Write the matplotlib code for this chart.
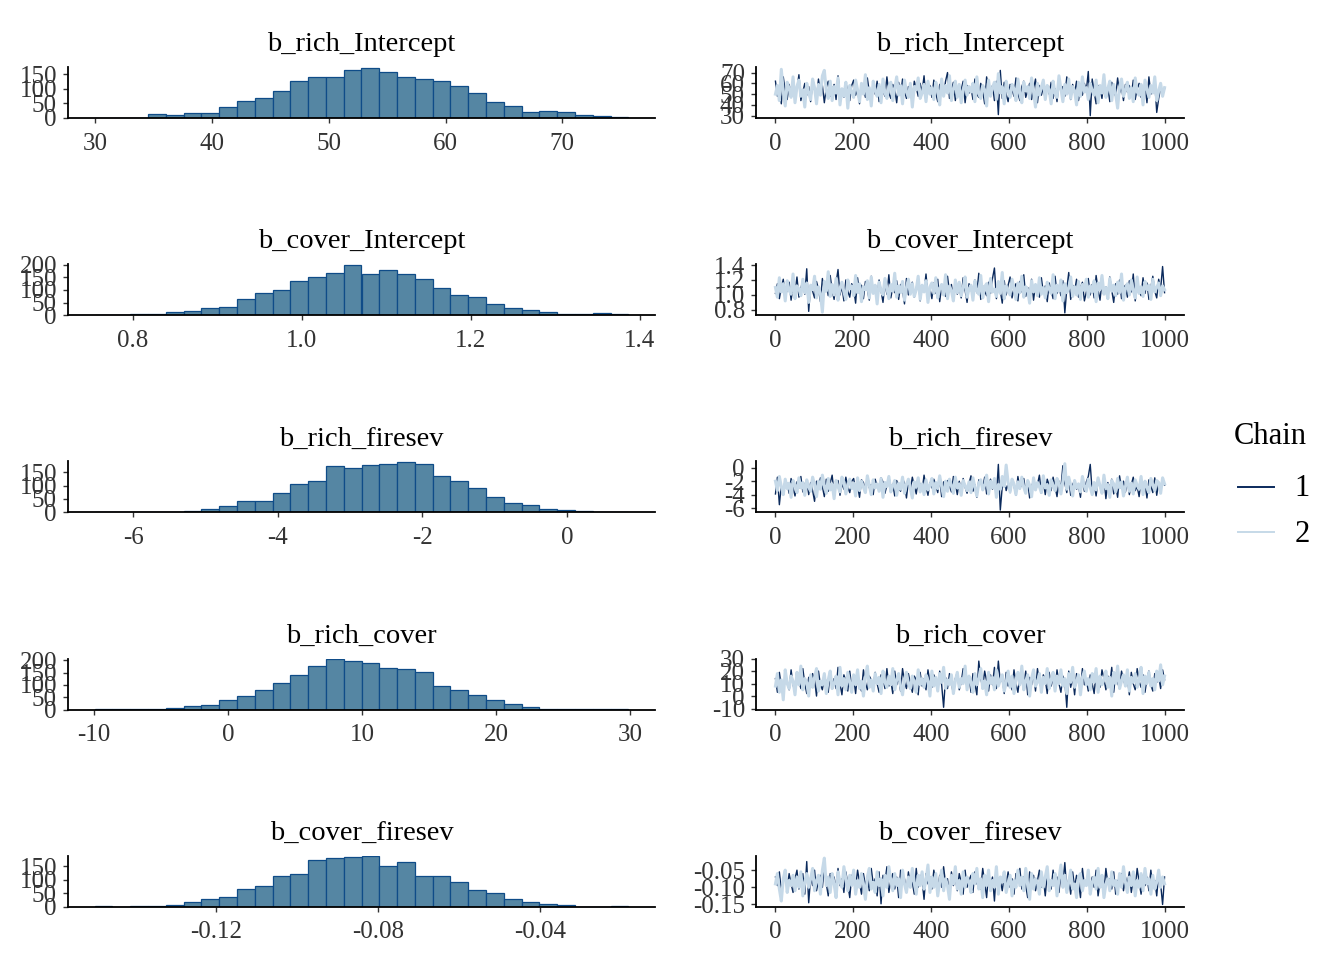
import matplotlib
matplotlib.use('Agg')
import matplotlib.pyplot as plt
from matplotlib.lines import Line2D
import numpy as np

plt.rcParams['font.family'] = ['Liberation Serif', 'DejaVu Serif']
plt.rcParams['axes.unicode_minus'] = False

# ---------------- data ----------------
params = ["b_rich_Intercept", "b_cover_Intercept", "b_rich_firesev",
          "b_rich_cover", "b_cover_firesev"]
chain_labels = ["1", "2"]

# histogram bins (left edge of first bin, bin width) and counts (2000 draws)
hist_bin_start = [29.94, 0.7547, -6.530, -9.949, -0.14995]
hist_bin_width = [1.524, 0.02105, 0.2459, 1.3275, 0.004392]

counts_rich_intercept = [1, 1, 1, 14, 11, 17, 17, 39, 59, 69, 92, 126, 140, 141, 166,
                         174, 158, 141, 135, 128, 109, 85, 55, 43, 22, 24, 20, 11, 7, 3]
counts_cover_intercept = [2, 2, 3, 5, 12, 18, 30, 34, 66, 87, 101, 134, 151, 169, 200,
                          164, 178, 165, 145, 108, 79, 71, 43, 27, 21, 13, 5, 5, 8, 4]
counts_rich_firesev = [1, 1, 1, 1, 2, 4, 13, 22, 44, 44, 71, 105, 118, 172, 166,
                       177, 179, 188, 179, 137, 116, 91, 56, 35, 27, 12, 10, 4, 3, 2]
counts_rich_cover = [3, 1, 3, 3, 6, 16, 20, 40, 56, 81, 107, 140, 177, 205, 196,
                     188, 169, 163, 151, 97, 79, 61, 37, 21, 11, 3, 4, 2, 1, 3]
counts_cover_firesev = [3, 1, 3, 3, 7, 19, 28, 37, 66, 77, 114, 119, 171, 181, 183,
                        186, 150, 164, 115, 114, 93, 62, 51, 30, 17, 12, 8, 1, 1, 3]
hist_counts = [counts_rich_intercept, counts_cover_intercept, counts_rich_firesev,
               counts_rich_cover, counts_cover_firesev]

hist_xticks = [[30, 40, 50, 60, 70], [0.8, 1.0, 1.2, 1.4], [-6, -4, -2, 0],
               [-10, 0, 10, 20, 30], [-0.12, -0.08, -0.04]]
hist_xticklabels = [["30", "40", "50", "60", "70"], ["0.8", "1.0", "1.2", "1.4"],
                    ["-6", "-4", "-2", "0"], ["-10", "0", "10", "20", "30"],
                    ["-0.12", "-0.08", "-0.04"]]
hist_yticks = [[0, 50, 100, 150], [0, 50, 100, 150, 200], [0, 50, 100, 150],
               [0, 50, 100, 150, 200], [0, 50, 100, 150]]

trace_xticks = [0, 200, 400, 600, 800, 1000]
trace_yticks = [[30, 40, 50, 60, 70], [0.8, 1.0, 1.2, 1.4], [-6, -4, -2, 0],
                [-10, 0, 10, 20, 30], [-0.15, -0.10, -0.05]]
trace_yticklabels = [["30", "40", "50", "60", "70"], ["0.8", "1.0", "1.2", "1.4"],
                     ["-6", "-4", "-2", "0"], ["-10", "0", "10", "20", "30"],
                     ["-0.15", "-0.10", "-0.05"]]

# trace values (thinned reading of each chain, every 5th iteration)
rich_intercept_c1 = [
    62, 48, 57, 41, 66, 53, 45, 59, 50, 63, 47, 55, 68, 44, 52, 60, 49, 57, 43, 61,
    54, 46, 64, 51, 58, 42, 56, 62, 48, 53, 59, 45, 67, 50, 55, 47, 61, 52, 44, 58,
    63, 49, 54, 41, 60, 56, 47, 65, 52, 45, 58, 50, 62, 43, 57, 53, 48, 66, 51, 46,
    59, 55, 42, 61, 49, 64, 53, 46, 57, 50, 44, 62, 56, 48, 60, 52, 67, 45, 54, 58,
    47, 63, 51, 43, 59, 55, 49, 62, 70, 46, 53, 61, 44, 57, 48, 54, 62, 42, 58, 51,
    56, 45, 64, 50, 47, 60, 53, 41, 66, 55, 49, 58, 44, 62, 31, 72, 46, 61, 50, 43,
    59, 54, 48, 65, 51, 44, 57, 62, 47, 53, 60, 45, 55, 64, 42, 58, 49, 56, 45, 57,
    50, 61, 46, 55, 43, 63, 52, 57, 48, 66, 54, 45, 59, 51, 62, 44, 56, 49, 60, 53,
    71, 30, 64, 52, 41, 58, 55, 46, 62, 50, 57, 43, 61, 53, 48, 65, 51, 56, 44, 59,
    52, 58, 49, 63, 45, 55, 60, 47, 52, 58, 42, 66, 50, 54, 61, 33, 46, 56, 49, 55]
rich_intercept_c2 = [
    50, 58, 44, 73, 52, 39, 61, 55, 47, 66, 42, 57, 63, 48, 54, 38, 60, 51, 45, 64,
    56, 41, 59, 49, 67, 72, 53, 46, 62, 44, 57, 51, 65, 40, 55, 48, 61, 37, 58, 52,
    47, 63, 54, 43, 60, 50, 68, 45, 56, 39, 62, 53, 48, 59, 42, 64, 51, 46, 57, 61,
    44, 55, 66, 49, 58, 41, 63, 52, 47, 60, 38, 57, 54, 65, 46, 51, 59, 43, 62, 50,
    56, 45, 61, 53, 40, 64, 48, 58, 51, 67, 44, 55, 62, 47, 59, 42, 53, 63, 49, 57,
    52, 60, 43, 66, 50, 46, 58, 54, 39, 63, 48, 56, 61, 45, 69, 51, 57, 41, 62, 53,
    47, 59, 55, 44, 64, 50, 42, 61, 53, 57, 46, 65, 52, 38, 60, 49, 56, 63, 45, 58,
    54, 41, 62, 51, 47, 67, 55, 43, 59, 50, 64, 46, 57, 53, 40, 61, 48, 66, 52, 56,
    45, 60, 53, 49, 63, 42, 58, 51, 68, 47, 55, 62, 44, 59, 50, 37, 57, 64, 48, 54,
    61, 46, 56, 43, 65, 52, 49, 59, 40, 63, 55, 47, 58, 51, 66, 44, 53, 60, 48, 56]

cover_intercept_c1 = [
    1.02, 1.15, 0.95, 1.10, 1.21, 0.98, 1.07, 1.17, 0.93, 1.12, 1.04, 1.24, 0.97, 1.09, 1.19, 1.01, 1.35, 0.78, 1.13, 1.05,
    0.96, 1.18, 1.08, 0.91, 1.22, 1.03, 1.14, 0.99, 1.26, 1.06, 0.94, 1.16, 1.34, 1.00, 1.11, 0.92, 1.20, 1.05, 0.97, 1.15,
    1.09, 0.89, 1.23, 1.02, 1.13, 0.95, 1.18, 1.07, 0.93, 1.25, 1.04, 1.12, 0.98, 1.20, 1.06, 0.90, 1.16, 1.01, 1.27, 0.96,
    1.10, 1.03, 1.19, 0.94, 1.14, 1.06, 0.88, 1.22, 1.00, 1.11, 1.17, 0.97, 1.08, 1.24, 0.92, 1.13, 1.05, 1.28, 0.99, 1.09,
    0.95, 1.16, 1.02, 1.21, 0.91, 1.12, 1.07, 0.98, 1.25, 1.04, 1.14, 0.93, 1.18, 1.01, 1.10, 0.96, 1.23, 1.06, 0.90, 1.15,
    1.08, 0.97, 1.20, 1.03, 1.29, 0.94, 1.12, 1.05, 0.99, 1.17, 1.02, 1.22, 1.36, 0.95, 1.11, 1.06, 0.89, 1.19, 1.00, 1.13,
    1.24, 0.96, 1.09, 1.15, 0.92, 1.18, 1.04, 1.27, 0.98, 1.10, 1.01, 1.21, 0.93, 1.14, 1.07, 0.97, 1.23, 1.03, 1.12, 0.91,
    1.16, 1.06, 0.95, 1.25, 1.02, 1.11, 0.99, 1.19, 0.76, 1.08, 1.30, 0.94, 1.13, 1.05, 1.21, 0.97, 1.10, 1.17, 0.92, 1.04,
    1.22, 1.00, 1.14, 0.96, 1.26, 1.07, 0.93, 1.18, 1.03, 1.11, 0.98, 1.24, 1.06, 0.90, 1.15, 1.01, 1.20, 0.95, 1.09, 1.13,
    0.97, 1.19, 1.04, 1.28, 0.92, 1.12, 1.06, 0.99, 1.23, 1.02, 1.16, 0.94, 1.10, 1.25, 1.05, 0.96, 1.21, 1.08, 1.38, 1.03]
cover_intercept_c2 = [
    1.10, 0.97, 1.23, 1.04, 1.15, 0.92, 1.19, 1.06, 1.01, 1.28, 0.95, 1.12, 1.08, 0.99, 1.21, 1.03, 1.16, 0.90, 1.13, 1.07,
    1.25, 0.96, 1.11, 1.02, 0.77, 1.18, 1.05, 1.31, 0.98, 1.14, 1.00, 1.22, 0.93, 1.09, 1.17, 1.04, 0.94, 1.20, 1.08, 1.12,
    0.99, 1.26, 1.03, 1.15, 0.91, 1.11, 1.07, 1.19, 0.96, 1.24, 1.02, 1.13, 0.88, 1.17, 1.06, 1.00, 1.22, 1.09, 0.95, 1.14,
    1.05, 1.29, 0.97, 1.12, 1.03, 1.18, 0.93, 1.10, 1.21, 1.01, 1.15, 0.98, 1.07, 1.25, 0.94, 1.13, 1.04, 1.19, 0.90, 1.11,
    1.16, 1.02, 1.23, 0.96, 1.09, 1.14, 1.00, 1.27, 0.95, 1.12, 1.06, 0.92, 1.20, 1.03, 1.17, 0.99, 1.10, 1.24, 0.97, 1.08,
    1.13, 0.93, 1.19, 1.05, 1.01, 1.26, 0.96, 1.11, 1.15, 0.91, 1.22, 1.04, 1.08, 0.98, 1.18, 1.02, 1.30, 0.95, 1.12, 1.06,
    1.00, 1.21, 1.09, 0.94, 1.16, 1.03, 1.25, 0.97, 1.11, 1.07, 0.89, 1.19, 1.04, 1.14, 0.99, 1.23, 1.01, 1.10, 0.96, 1.17,
    1.08, 1.02, 1.27, 0.95, 1.13, 1.05, 1.20, 0.92, 1.15, 1.03, 1.09, 1.24, 0.98, 1.11, 1.00, 1.18, 0.94, 1.14, 1.06, 1.21,
    0.97, 1.12, 1.04, 1.19, 0.91, 1.16, 1.07, 1.26, 1.01, 1.10, 0.95, 1.22, 1.05, 1.13, 0.99, 1.17, 1.03, 1.28, 0.93, 1.09,
    1.15, 1.00, 1.20, 1.06, 0.96, 1.24, 1.02, 1.11, 0.98, 1.18, 1.07, 1.13, 0.94, 1.21, 1.04, 1.10, 1.16, 0.99, 1.12, 1.07]

rich_firesev_c1 = [
    -3.9, -1.4, -5.5, -2.7, -3.3, -1.9, -2.4, -3.8, -1.6, -2.9, -4.2, -2.1, -3.0, -1.3, -3.6, -2.5, -1.8, -4.0, -2.2, -3.4,
    -5.0, -2.0, -3.1, -1.5, -2.8, -4.3, -1.7, -3.5, -2.3, -1.1, -3.9, -2.6, -1.9, -4.1, -2.4, -3.2, -1.4, -2.9, -3.7, -2.0,
    -1.6, -3.4, -2.7, -4.4, -1.8, -2.2, -3.6, -1.2, -3.0, -2.5, -4.0, -1.7, -2.8, -3.3, -1.5, -2.1, -3.8, -2.6, -1.3, -3.1,
    -2.4, -4.2, -1.9, -2.9, -3.5, -1.6, -2.3, -4.5, -2.0, -3.2, -1.4, -2.7, -3.9, -1.8, -2.5, -3.4, -1.1, -2.8, -4.1, -2.2,
    -3.0, -1.7, -2.6, -3.7, -1.5, -4.3, -2.1, -3.1, -1.9, -2.7, -3.6, -1.3, -2.4, -4.0, -2.0, -3.3, -1.6, -2.9, -3.8, -2.3,
    -1.2, -3.5, -2.5, -4.4, -1.8, -2.2, -3.0, -1.4, -3.9, -2.6, -1.7, -3.2, -2.0, -4.2, 0.5, -6.3, -2.8, -1.5, -3.4, -2.3,
    -3.7, -1.9, -2.7, -4.1, -1.3, -3.1, -2.4, -1.6, -3.6, -2.1, -4.5, -2.9, -1.8, -3.3, -2.5, -1.1, -3.8, -2.2, -4.0, -1.7,
    -2.6, -3.4, -1.4, -2.8, -4.3, -2.0, -3.0, 0.3, -2.3, -3.7, -1.6, -4.1, -2.5, -1.9, -3.2, -2.7, -4.4, -1.5, -3.5, -2.1,
    -1.3, 0.5, -3.6, -2.4, -4.2, -1.8, -2.9, -3.3, -1.5, -4.6, -2.2, -3.0, -1.7, -3.9, -2.6, -4.4, -1.2, -3.1, -2.0, -3.6,
    -1.9, -4.0, -2.5, -1.4, -3.4, -2.8, -4.3, -1.6, -3.0, -2.3, -4.5, -1.8, -2.7, -3.7, -1.5, -4.1, -2.2, -3.3, -1.7, -2.6]
rich_firesev_c2 = [
    -2.0, -3.4, -1.3, -2.8, -4.0, -1.7, -3.1, -2.3, -4.4, -1.9, -2.6, -3.7, -1.5, -3.0, -2.2, -4.1, -1.8, -2.9, -3.5, -1.4,
    -2.5, -4.3, -2.0, -3.2, -1.1, -2.7, -3.8, -1.6, -3.3, -2.4, -4.6, -1.9, -2.8, -3.6, -1.4, -2.1, -3.9, -2.6, -1.7, -3.1,
    -2.3, -4.2, -1.5, -3.4, -2.0, -2.9, -3.7, -1.2, -2.6, -4.0, -1.8, -3.0, -2.4, -3.5, -1.6, -4.4, -2.2, -2.8, -1.3, -3.6,
    -2.7, -1.9, -4.1, -2.3, -3.2, -1.4, -3.8, -2.5, -1.7, -3.0, -4.5, -2.1, -2.9, -1.5, -3.6, -2.4, -4.0, -1.8, -3.3, -2.6,
    -1.6, -3.9, -2.2, -3.1, -1.2, -2.8, -4.3, -2.0, -3.5, -1.7, -2.6, -3.8, -1.4, -3.0, -2.4, -4.1, -1.9, -2.7, -3.4, -2.1,
    -3.7, -1.5, -2.9, -4.2, -2.3, -1.8, -3.3, -2.6, -1.1, -3.9, -2.0, -3.0, -1.6, -4.4, -2.5, -3.2, -1.3, -2.8, 0.4, -2.2,
    -3.6, -1.7, -2.4, -4.0, -2.1, -3.1, -1.4, -2.9, -3.8, -1.9, -2.6, -4.3, -1.5, -3.3, -2.2, -2.8, -3.7, -1.2, -3.0, -2.5,
    -4.1, -1.8, -2.7, -3.4, -1.6, -2.3, -3.9, -2.0, 0.6, -3.2, -1.4, -2.6, -4.2, -1.9, -3.0, -2.4, -3.6, -1.3, -2.8, -3.5,
    -1.7, -2.9, -4.0, -2.2, -3.3, -1.5, -2.7, -3.8, -1.1, -3.1, -2.5, -4.4, -1.9, -2.4, -3.6, -1.6, -3.0, -2.1, -4.2, -2.8,
    -1.4, -3.5, -2.3, -3.9, -1.8, -2.6, -3.2, -1.3, -4.0, -2.0, -2.9, -3.7, -1.6, -2.5, -3.4, -1.9, -2.2, -3.8, -1.5, -2.4]

rich_cover_c1 = [
    14, 3, 19, 8, 1, 16, 11, 5, 21, 9, 3, 17, 12, 6, 22, 10, 2, 15, 7, 18,
    13, 0, 20, 9, 5, 16, 11, 3, 19, 8, 14, 6, 23, 10, 1, 17, 12, 4, 20, 7,
    15, 2, 18, 9, 4, 21, 11, 5, 16, 13, 7, 19, 10, 3, 17, 14, 6, 22, 8, 12,
    2, 20, 9, 15, 4, 22, 11, 6, 18, 10, 3, 16, 13, 1, 19, 8, 14, 5, 21, 11,
    7, 17, 12, 4, 20, 9, -9, 15, 6, 18, 10, 2, 14, 19, 5, 11, 22, 13, 8, 16,
    3, 18, 10, 1, 28, 14, 7, 20, 12, 4, 17, 9, 23, 6, 28, 11, 15, 2, 19, 8,
    13, 5, 21, 10, 3, 16, 12, 7, 20, 1, 15, 9, 18, 4, 22, 11, 6, 17, 13, 2,
    19, 8, 14, 5, 21, 10, 3, 16, 12, -9, 20, 7, 15, 1, 18, 11, 6, 22, 9, 13,
    4, 17, 10, 2, 19, 12, 7, 21, 14, 5, 16, 9, 23, 3, 18, 11, 6, 20, 13, 8,
    15, 1, 19, 10, 5, 22, 12, 7, 17, 3, 14, 20, 9, 4, 18, 11, 16, 6, 21, 13]
rich_cover_c2 = [
    8, 18, 3, 13, -3, 21, 10, 6, 16, 12, 1, 19, 9, 24, 5, 14, 11, 0, 17, 7,
    15, 22, 4, 12, 9, 18, 2, 13, 20, 6, 10, 16, 1, 23, 8, 14, 5, 19, 11, 3,
    17, 9, 21, 6, 12, 0, 15, 24, 7, 13, 4, 18, 10, 15, 2, 20, 11, 7, 16, 9,
    22, 5, 13, 18, 8, 1, 14, 19, 10, 6, 16, 11, 3, 21, 9, 14, 7, 17, 12, 0,
    20, 8, 15, 4, 18, 11, 23, 6, 13, 9, 17, 2, 12, 19, 7, 14, 10, 24, 5, 16,
    11, 3, 18, 9, 14, 22, 6, 12, 1, 19, 10, 15, 5, 21, 8, 13, 17, 4, 11, 20,
    7, 16, 2, 13, 19, 9, 24, 5, 12, 17, 0, 14, 21, 8, 11, 18, 3, 15, 10, 22,
    6, 13, 19, 4, 16, 10, 21, 8, 14, 2, 18, 11, 23, 7, 12, 17, 1, 15, 20, 9,
    14, 5, 18, 11, 22, 3, 16, 9, 13, 20, 7, 15, 0, 19, 10, 24, 6, 12, 17, 8,
    21, 4, 15, 11, 18, 7, 13, 23, 2, 16, 10, 19, 8, 14, 5, 20, 12, 25, 9, 16]

cover_firesev_c1 = [
    -0.07, -0.095, -0.055, -0.11, -0.08, -0.065, -0.1, -0.06, -0.09, -0.115, -0.075, -0.05, -0.105, -0.085, -0.06, -0.12, -0.025, -0.145, -0.07, -0.095,
    -0.05, -0.11, -0.08, -0.065, -0.1, -0.04, -0.09, -0.125, -0.06, -0.085, -0.07, -0.105, -0.045, -0.095, -0.075, -0.115, -0.055, -0.09, -0.13, -0.065,
    -0.08, -0.1, -0.05, -0.085, -0.12, -0.06, -0.095, -0.07, -0.11, -0.045, -0.09, -0.075, -0.125, -0.055, -0.148, -0.065, -0.085, -0.04, -0.115, -0.08,
    -0.06, -0.105, -0.07, -0.13, -0.05, -0.09, -0.075, -0.11, -0.055, -0.095, -0.085, -0.12, -0.045, -0.1, -0.065, -0.08, -0.135, -0.06, -0.09, -0.07,
    -0.105, -0.05, -0.085, -0.115, -0.065, -0.1, -0.04, -0.09, -0.075, -0.125, -0.055, -0.095, -0.07, -0.11, -0.06, -0.085, -0.12, -0.05, -0.1, -0.08,
    -0.065, -0.115, -0.055, -0.09, -0.075, -0.105, -0.045, -0.085, -0.13, -0.06, -0.1, -0.07, -0.14, -0.05, -0.095, -0.08, -0.11, -0.065, -0.09, -0.055,
    -0.1, -0.075, -0.12, -0.06, -0.085, -0.045, -0.105, -0.07, -0.095, -0.13, -0.055, -0.09, -0.065, -0.11, -0.08, -0.05, -0.1, -0.075, -0.125, -0.06,
    -0.085, -0.105, -0.05, -0.095, -0.07, -0.115, -0.06, -0.09, -0.028, -0.11, -0.075, -0.12, -0.055, -0.1, -0.065, -0.085, -0.13, -0.045, -0.095, -0.08,
    -0.06, -0.11, -0.07, -0.1, -0.05, -0.125, -0.085, -0.065, -0.115, -0.045, -0.09, -0.075, -0.105, -0.055, -0.12, -0.08, -0.095, -0.06, -0.11, -0.07,
    -0.09, -0.055, -0.115, -0.075, -0.1, -0.045, -0.085, -0.12, -0.065, -0.095, -0.07, -0.11, -0.05, -0.1, -0.08, -0.125, -0.06, -0.09, -0.15, -0.07]
cover_firesev_c2 = [
    -0.09, -0.06, -0.105, -0.14, -0.075, -0.05, -0.115, -0.08, -0.095, -0.065, -0.11, -0.07, -0.1, -0.055, -0.125, -0.085, -0.06, -0.1, -0.075, -0.045,
    -0.11, -0.08, -0.065, -0.12, -0.05, -0.015, -0.095, -0.07, -0.115, -0.06, -0.09, -0.13, -0.055, -0.085, -0.1, -0.04, -0.075, -0.11, -0.065, -0.095,
    -0.05, -0.12, -0.08, -0.1, -0.06, -0.09, -0.135, -0.07, -0.045, -0.105, -0.085, -0.115, -0.055, -0.095, -0.075, -0.125, -0.065, -0.1, -0.04, -0.08,
    -0.11, -0.06, -0.095, -0.075, -0.13, -0.05, -0.09, -0.115, -0.07, -0.1, -0.045, -0.085, -0.12, -0.065, -0.095, -0.055, -0.105, -0.08, -0.035, -0.115,
    -0.07, -0.1, -0.06, -0.125, -0.085, -0.05, -0.11, -0.075, -0.095, -0.135, -0.065, -0.09, -0.04, -0.105, -0.08, -0.12, -0.055, -0.1, -0.07, -0.085,
    -0.115, -0.06, -0.09, -0.045, -0.105, -0.075, -0.13, -0.065, -0.095, -0.05, -0.11, -0.08, -0.1, -0.04, -0.12, -0.07, -0.085, -0.055, -0.115, -0.09,
    -0.065, -0.125, -0.08, -0.1, -0.05, -0.095, -0.07, -0.11, -0.045, -0.09, -0.135, -0.06, -0.105, -0.075, -0.085, -0.12, -0.055, -0.1, -0.07, -0.04,
    -0.11, -0.08, -0.095, -0.06, -0.125, -0.075, -0.035, -0.1, -0.065, -0.115, -0.085, -0.05, -0.105, -0.09, -0.13, -0.07, -0.06, -0.11, -0.08, -0.095,
    -0.05, -0.12, -0.085, -0.07, -0.105, -0.045, -0.1, -0.065, -0.13, -0.09, -0.075, -0.11, -0.055, -0.095, -0.08, -0.12, -0.06, -0.1, -0.04, -0.085,
    -0.115, -0.07, -0.095, -0.055, -0.125, -0.08, -0.1, -0.06, -0.11, -0.045, -0.09, -0.075, -0.12, -0.065, -0.105, -0.085, -0.05, -0.1, -0.07, -0.09]

traces = [(rich_intercept_c1, rich_intercept_c2),
          (cover_intercept_c1, cover_intercept_c2),
          (rich_firesev_c1, rich_firesev_c2),
          (rich_cover_c1, rich_cover_c2),
          (cover_firesev_c1, cover_firesev_c2)]
n_iter = 1000

# ---------------- style ----------------
hist_fill = "#5586a3"
hist_edge = "#0f4c88"
chain_colors = ["#0b2a5c", "#c6d9e8"]
chain_widths = [1.0, 2.2]
tick_color = "#333333"
TICK_FS = 18
TITLE_FS = 20.5

W, H = 1344, 960


def rect(l, t, r, b):
    return [l / W, 1 - b / H, (r - l) / W, (b - t) / H]


def style_axes(ax):
    for s in ("top", "right"):
        ax.spines[s].set_visible(False)
    for s in ("left", "bottom"):
        ax.spines[s].set_linewidth(1.3)
        ax.spines[s].set_color("black")
    ax.tick_params(axis="both", which="major", length=3.5, width=1.0,
                   color=tick_color, labelcolor=tick_color, labelsize=TICK_FS)
    ax.tick_params(axis="x", pad=7.0)
    ax.tick_params(axis="y", pad=4.5)
    ax.patch.set_alpha(0)


fig = plt.figure(figsize=(W / 100, H / 100), dpi=100)

for k, name in enumerate(params):
    bottom = 118 + 197.2 * k
    top = bottom - 51

    # ---- histogram ----
    axh = fig.add_axes(rect(68, top, 655, bottom))
    counts = np.array(hist_counts[k], dtype=float)
    w = hist_bin_width[k]
    edges = hist_bin_start[k] + w * np.arange(len(counts) + 1)
    axh.bar(edges[:-1], counts, width=w, align="edge", color=hist_fill,
            edgecolor=hist_edge, linewidth=0.9)
    span = edges[-1] - edges[0]
    axh.set_xlim(edges[0] - 0.05 * span, edges[-1] + 0.05 * span)
    axh.set_ylim(0, counts.max() * 1.01)
    axh.set_xticks(hist_xticks[k])
    axh.set_xticklabels(hist_xticklabels[k])
    axh.set_yticks(hist_yticks[k])
    axh.set_yticklabels([str(v) for v in hist_yticks[k]])
    style_axes(axh)
    axh.set_title(name, fontsize=TITLE_FS, pad=11.5)

    # ---- trace ----
    axt = fig.add_axes(rect(756, top, 1184, bottom))
    allv = []
    for c, vals in enumerate(traces[k]):
        it = np.linspace(1, n_iter, len(vals))
        axt.plot(it, vals, color=chain_colors[c], linewidth=chain_widths[c])
        allv.extend(vals)
    lo, hi = min(allv), max(allv)
    axt.set_ylim(lo - 0.05 * (hi - lo), hi + 0.05 * (hi - lo))
    axt.set_xlim(1 - 0.05 * (n_iter - 1), n_iter + 0.05 * (n_iter - 1))
    axt.set_xticks(trace_xticks)
    axt.set_xticklabels([str(v) for v in trace_xticks])
    axt.set_yticks(trace_yticks[k])
    axt.set_yticklabels(trace_yticklabels[k])
    style_axes(axt)
    axt.set_title(name, fontsize=TITLE_FS, pad=11.5)

# ---- legend ----
fig.text(1270 / W, 1 - 436 / H, "Chain", fontsize=22, ha="center", va="center", color="black")
for c, lab in enumerate(chain_labels):
    yy = 1 - (487 + 45 * c) / H
    fig.add_artist(Line2D([1238 / W, 1274 / W], [yy, yy], color=chain_colors[c],
                          linewidth=1.4, transform=fig.transFigure))
    fig.text(1302 / W, yy - 2 / H, lab, fontsize=22, ha="center", va="center", color="black")

fig.savefig("out.png", dpi=100, facecolor="white")
